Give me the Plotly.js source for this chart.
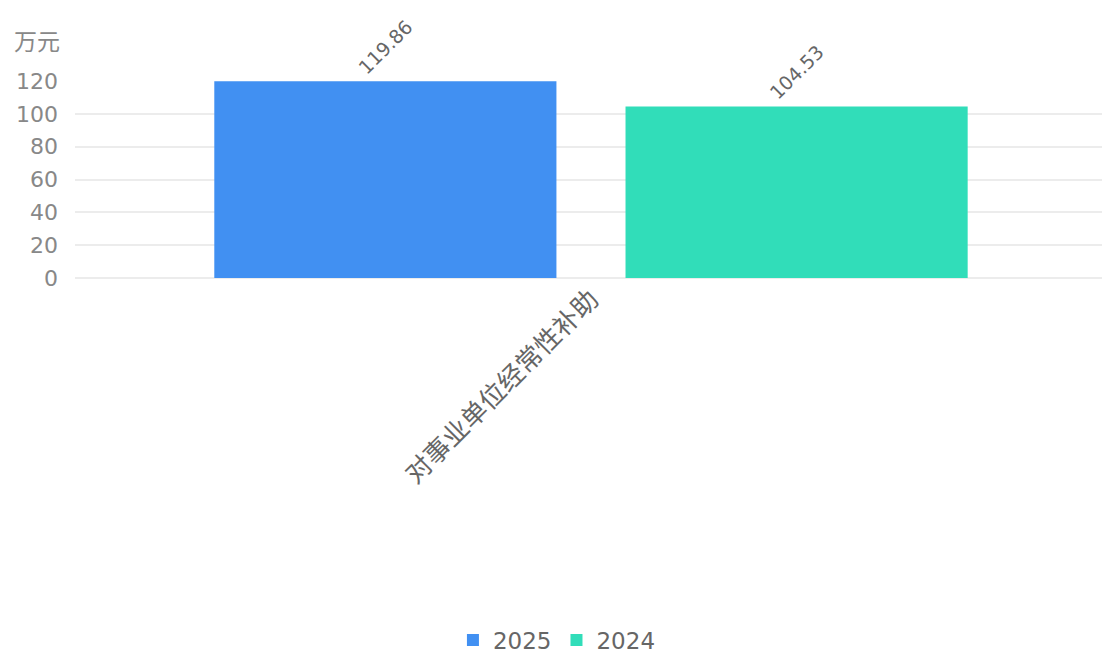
<!DOCTYPE html>
<html>
<head>
<meta charset="utf-8">
<script src="https://cdn.plot.ly/plotly-3.0.1.min.js"></script>
<style>html,body{margin:0;padding:0;background:#fff;}#chart{width:1102px;height:655px;}</style>
</head>
<body>
<div id="chart"></div>
<script>
const categories = ["对事业单位经常性补助"];
const series2025 = [119.86];
const series2024 = [104.53];
const seriesNames = ["2025", "2024"];
const yTickVals = [0, 20, 40, 60, 80, 100, 120];
const unitLabel = "万元";

const cjkFont = '"Noto Sans CJK SC", "Noto Sans", sans-serif';
const numFont = '"DejaVu Sans", "Noto Sans CJK SC", sans-serif';

const traces = [
  {
    type: 'bar', name: seriesNames[0], x: categories, y: series2025,
    marker: {color: '#4190F2'},
    text: series2025.map(v => v.toFixed(2)), textposition: 'outside', textangle: -45,
    textfont: {family: numFont, size: 19, color: '#666'}, cliponaxis: false
  },
  {
    type: 'bar', name: seriesNames[1], x: categories, y: series2024,
    marker: {color: '#31DDB9'},
    text: series2024.map(v => v.toFixed(2)), textposition: 'outside', textangle: -45,
    textfont: {family: numFont, size: 19, color: '#666'}, cliponaxis: false
  }
];

const layout = {
  width: 1102, height: 655,
  margin: {l: 75, r: 0, t: 81, b: 377, autoexpand: false},
  paper_bgcolor: '#fff', plot_bgcolor: '#fff',
  barmode: 'group', bargap: 0.203, bargroupgap: 0.168,
  font: {family: cjkFont, color: '#888'},
  xaxis: {
    type: 'category', range: [-0.5, 0.4952], tickangle: -45, showgrid: false, showline: false, ticks: '',
    tickfont: {family: cjkFont, size: 26, color: '#666'}, automargin: false
  },
  yaxis: {
    range: [0, 120], tickvals: yTickVals, showgrid: true, gridcolor: '#ececec', gridwidth: 2,
    zeroline: true, zerolinecolor: '#ececec', zerolinewidth: 2, showline: false, ticks: '',
    tickfont: {family: numFont, size: 22, color: '#888'}, ticklabelstandoff: 16, automargin: false
  },
  showlegend: true,
  legend: {
    orientation: 'h', x: 0.368, xanchor: 'left', y: -1.838, yanchor: 'middle',
    font: {family: numFont, size: 23, color: '#666'}, itemwidth: 30, traceorder: 'normal'
  },
  annotations: [{
    text: unitLabel, xref: 'paper', yref: 'paper', x: -0.061, y: 1.21, xanchor: 'left', yanchor: 'middle',
    showarrow: false, font: {family: cjkFont, size: 23, color: '#888'}
  }]
};

Plotly.newPlot('chart', traces, layout, {displayModeBar: false, responsive: false});
</script>
</body>
</html>
